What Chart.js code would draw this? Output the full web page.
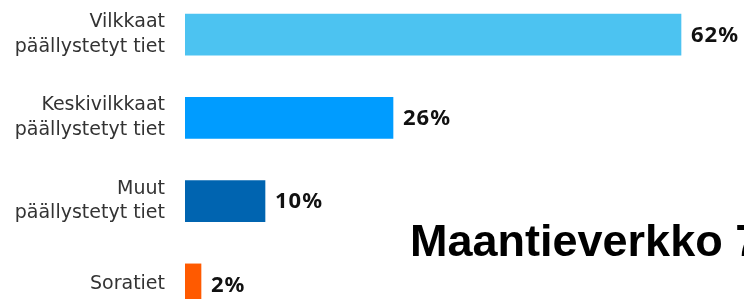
<!DOCTYPE html>
<html>
<head>
<meta charset="utf-8">
<script src="https://cdn.jsdelivr.net/npm/chart.js@4/dist/chart.umd.min.js"></script>
<style>
  html, body { margin: 0; padding: 0; background: #fff; }
  body { width: 744px; height: 299px; overflow: hidden; position: relative; }
  #wrap { position: absolute; left: 0; top: -7px; width: 985px; height: 333px; }
</style>
</head>
<body>
<div id="wrap"><canvas id="grafico"></canvas></div>
<script>
// Datos
const categorias = [
  ["Vilkkaat", "päällystetyt tiet"],
  ["Keskivilkkaat", "päällystetyt tiet"],
  ["Muut", "päällystetyt tiet"],
  "Soratiet",
];
const osuudet = [62, 26, 10, 2];
const otsikko = "Maantieverkko 78 000 km";

const varit = ["#4cc3f1", "#009cff", "#0064b0", "#ff5a00"];

// arvot palkkien perään + otsikko
const arvoPlugin = {
  id: "arvot",
  afterDatasetsDraw(chart) {
    const ctx = chart.ctx;
    const meta = chart.getDatasetMeta(0);
    ctx.save();
    ctx.fillStyle = "#111";
    ctx.font = "bold 22px 'Noto Sans'";
    ctx.letterSpacing = "1px";
    ctx.textAlign = "left";
    ctx.textBaseline = "middle";
    meta.data.forEach((bar, i) => {
      ctx.fillText(osuudet[i] + "%", bar.x + 10, bar.y + 1);
    });
    ctx.letterSpacing = "0px";
    ctx.fillStyle = "#000";
    ctx.font = "bold 45px 'Liberation Sans'";
    ctx.textBaseline = "alphabetic";
    ctx.fillText(otsikko, 410, 263);
    ctx.restore();
  },
};

new Chart(document.getElementById("grafico"), {
  type: "bar",
  data: {
    labels: categorias,
    datasets: [
      {
        data: osuudet,
        backgroundColor: varit,
        barThickness: 41,
      },
    ],
  },
  options: {
    indexAxis: "y",
    responsive: true,
    maintainAspectRatio: false,
    animation: false,
    layout: { padding: 0 },
    plugins: { legend: { display: false }, tooltip: { enabled: false } },
    scales: {
      x: { display: false, min: 0, max: 100 },
      y: {
        grid: { display: false, drawTicks: false },
        border: { display: false },
        ticks: {
          autoSkip: false,
          padding: 20,
          color: "#333",
          font: { family: "'DejaVu Sans'", size: 19, lineHeight: 1.3 },
        },
        afterFit(scale) {
          scale.width = 185;
          scale.paddingTop = 0;
          scale.paddingBottom = 0;
        },
      },
    },
  },
  plugins: [arvoPlugin],
});
</script>
</body>
</html>
